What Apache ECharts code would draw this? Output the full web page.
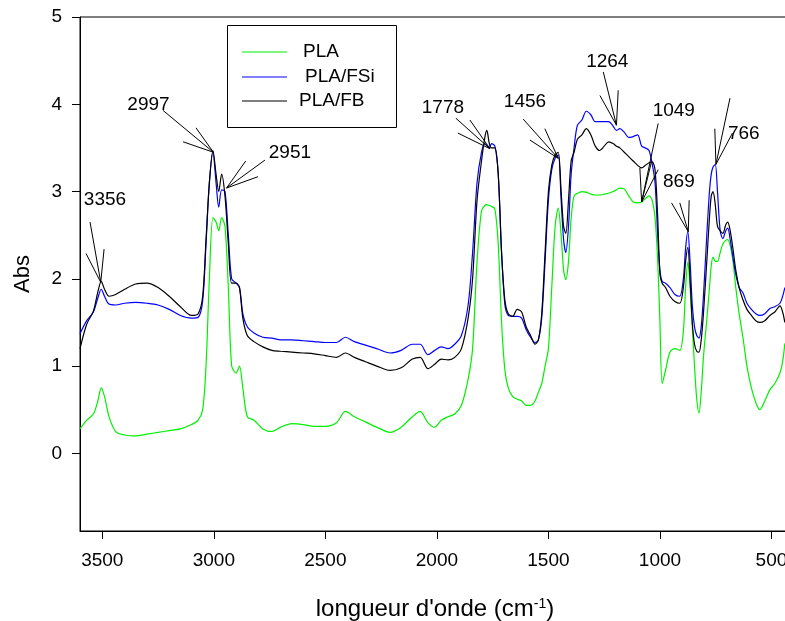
<!DOCTYPE html>
<html>
<head>
<meta charset="utf-8">
<script src="https://cdn.jsdelivr.net/npm/echarts@6/dist/echarts.min.js"></script>
<style>
html,body{margin:0;padding:0;background:#fff;}
#chart{width:785px;height:621px;}
</style>
</head>
<body>
<div id="chart"></div>
<script>
// wavenumbers (cm-1)
var wavenumbers = [3600,3570,3540,3520,3505,3490,3470,3440,3400,3350,3300,3250,3200,3150,3100,3070,3050,3035,3020,3004,
2990,2978,2965,2950,2935,2920,2900,2885,2870,2850,2820,2780,2740,2700,2650,2600,2550,2500,2450,2410,
2370,2320,2270,2210,2160,2110,2075,2040,2010,1980,1950,1920,1890,1860,1840,1820,1800,1785,1776,1765,
1755,1740,1725,1710,1695,1680,1660,1640,1620,1600,1580,1560,1545,1530,1515,1500,1485,1470,1456,1443,
1432,1422,1410,1398,1385,1370,1350,1330,1310,1290,1270,1250,1230,1210,1195,1180,1160,1140,1120,1100,
1082,1065,1049,1035,1022,1010,1000,990,975,955,933,911,895,885,875,865,855,845,835,825,
815,805,790,778,770,762,752,742,730,718,705,696,685,673,660,645,628,610,590,570,
552,530,507,485,462,450,440];

var absPLA = [0.28,0.38,0.45,0.60,0.75,0.65,0.42,0.25,0.21,0.20,0.22,0.24,0.26,0.28,0.33,0.38,0.50,1.00,2.00,2.70,
2.65,2.55,2.70,2.60,1.90,1.00,0.92,1.00,0.75,0.42,0.38,0.28,0.25,0.30,0.34,0.33,0.31,0.31,0.35,0.48,
0.42,0.36,0.30,0.24,0.30,0.42,0.48,0.35,0.30,0.38,0.42,0.45,0.55,0.85,1.20,2.20,2.78,2.84,2.85,2.84,
2.83,2.80,2.40,1.50,0.95,0.75,0.65,0.62,0.60,0.55,0.55,0.60,0.70,0.80,1.00,1.20,1.90,2.60,2.81,2.50,
2.10,1.99,2.20,2.70,2.95,2.98,3.00,2.99,2.97,2.96,2.96,2.97,2.98,3.00,3.02,3.04,3.03,2.95,2.88,2.87,
2.88,2.92,2.95,2.90,2.70,2.20,1.50,0.80,0.95,1.16,1.20,1.18,1.40,1.90,2.19,1.90,1.45,1.00,0.62,0.46,
0.70,1.10,1.53,1.90,2.15,2.25,2.20,2.20,2.30,2.40,2.44,2.45,2.38,2.21,1.90,1.60,1.33,1.00,0.75,0.58,
0.50,0.60,0.73,0.80,0.92,1.05,1.26];

var absPLAFSi = [1.37,1.52,1.62,1.78,1.88,1.80,1.71,1.70,1.72,1.73,1.72,1.70,1.65,1.58,1.55,1.56,1.75,2.40,3.10,3.45,
3.10,2.82,3.02,3.00,2.50,2.00,1.95,1.90,1.60,1.45,1.38,1.33,1.32,1.30,1.30,1.29,1.28,1.27,1.27,1.33,
1.28,1.24,1.20,1.15,1.18,1.25,1.25,1.13,1.18,1.22,1.20,1.25,1.35,1.70,2.30,3.10,3.45,3.55,3.53,3.50,
3.55,3.52,3.20,2.30,1.70,1.58,1.57,1.57,1.55,1.42,1.33,1.27,1.30,1.55,2.20,2.90,3.25,3.38,3.42,2.90,
2.45,2.30,2.60,3.20,3.50,3.76,3.82,3.92,3.88,3.80,3.80,3.80,3.80,3.75,3.70,3.72,3.68,3.62,3.63,3.65,
3.52,3.50,3.47,3.32,3.10,2.50,2.10,1.97,1.95,1.90,1.82,1.80,2.00,2.35,2.54,2.20,1.70,1.45,1.35,1.32,
1.45,1.80,2.50,3.00,3.20,3.28,3.31,3.00,2.55,2.46,2.55,2.58,2.45,2.25,2.05,1.90,1.84,1.72,1.65,1.60,
1.58,1.60,1.66,1.68,1.72,1.80,1.90];

var absPLAFB = [1.20,1.48,1.63,1.85,1.97,1.88,1.80,1.82,1.88,1.94,1.95,1.90,1.80,1.68,1.58,1.60,1.80,2.45,3.10,3.47,
3.20,3.00,3.20,2.95,2.40,1.95,1.95,1.90,1.55,1.35,1.28,1.22,1.18,1.17,1.16,1.15,1.14,1.12,1.10,1.15,
1.10,1.05,1.00,0.95,0.98,1.08,1.10,0.97,1.02,1.08,1.07,1.10,1.20,1.55,2.00,2.90,3.35,3.62,3.70,3.55,
3.50,3.50,3.20,2.30,1.75,1.60,1.57,1.65,1.62,1.45,1.35,1.25,1.30,1.60,2.30,3.00,3.30,3.42,3.45,3.00,
2.60,2.52,2.90,3.35,3.45,3.60,3.65,3.72,3.65,3.52,3.47,3.52,3.57,3.55,3.52,3.50,3.45,3.40,3.35,3.30,
3.27,3.30,3.33,3.34,3.25,2.70,2.05,1.95,1.90,1.80,1.74,1.72,1.90,2.20,2.36,2.00,1.50,1.25,1.17,1.16,
1.30,1.60,2.20,2.70,2.95,3.00,2.85,2.60,2.55,2.52,2.62,2.65,2.55,2.35,2.10,1.90,1.76,1.65,1.58,1.52,
1.50,1.52,1.58,1.62,1.69,1.62,1.50];

var seriesNames = ['PLA','PLA/FSi','PLA/FB'];
var xTickValues = [500,1000,1500,2000,2500,3000,3500];
var yTickValues = [0,1,2,3,4,5];

// peak annotations (data units: wavenumber, Abs)
var annotLabels = ['3356','2997','2951','1778','1456','1264','1049','869','766'];
var annotTextPos = [[3488,2.91],[3293,4.00],[2659,3.44],[1973,3.96],[1605,4.03],[1236,4.49],[938,3.93],[915,3.11],[624,3.66]];
var annotPoints = [[3507,1.96],[3002,3.45],[2943,3.04],[1762,3.49],[1456,3.38],[1195,3.76],[1082,2.88],[873,2.54],[749,3.31]];
var annotEnds = [
  [[3555,2.65],[3573,2.29],[3492,2.34]],
  [[3228,3.93],[3138,3.57],[3080,3.73]],
  [[2771,3.36],[2857,3.35],[2802,3.17]],
  [[1915,3.84],[1852,3.82],[1906,3.67]],
  [[1613,3.83],[1583,3.59],[1516,3.72]],
  [[1254,4.37],[1269,4.10],[1187,4.16]],
  [[1008,3.78],[1090,3.27],[1038,3.34],[1008,3.25]],
  [[948,2.87],[911,2.87],[869,2.90]],
  [[686,4.07],[754,3.72],[675,3.67]]
];

var FONT = '"Liberation Sans", Arial, sans-serif';
var colors = ['#00f000','#0000ff','#000000'];

function pairs(vals){ return wavenumbers.map(function(w,i){ return [w, vals[i]]; }); }

var leaderLines = [];
annotPoints.forEach(function(p,i){
  annotEnds[i].forEach(function(e){
    leaderLines.push([{coord:p},{coord:e}]);
  });
});
var labelPoints = annotLabels.map(function(t,i){ return {name:t, coord:annotTextPos[i], value:t}; });

var chart = echarts.init(document.getElementById('chart'), null, {renderer:'canvas'});
chart.setOption({
  animation:false,
  backgroundColor:'#fff',
  textStyle:{fontFamily:FONT},
  grid:{left:80, top:17, width:803, height:514, show:true, borderColor:'#000', borderWidth:1, backgroundColor:'transparent',
        containLabel:false, outerBoundsMode:'none'},
  xAxis:{
    type:'value', inverse:true, min:0, max:3600,
    name:'{a|longueur d\'onde (cm}{s|-1}{a|)}', nameLocation:'middle', nameGap:66,
    nameTextStyle:{padding:[0,93,0,0], rich:{a:{fontSize:24, fontFamily:FONT, color:'#000'}, s:{fontSize:14, fontFamily:FONT, color:'#000', verticalAlign:'top'}}},
    axisLine:{show:true, onZero:false, lineStyle:{color:'#000', width:1}},
    axisTick:{show:true, inside:false, length:8, lineStyle:{color:'#000'}, customValues:xTickValues},
    axisLabel:{show:true, margin:20, fontSize:19, color:'#000', fontFamily:FONT, customValues:xTickValues,
               formatter:function(v){ return String(v); }},
    splitLine:{show:false}
  },
  yAxis:{
    type:'value', min:-0.89, max:5,
    name:'Abs', nameLocation:'middle', nameGap:46, nameRotate:90,
    nameTextStyle:{fontSize:22, color:'#000', fontFamily:FONT},
    axisLine:{show:true, onZero:false, lineStyle:{color:'#000', width:1}},
    axisTick:{show:true, inside:false, length:8, lineStyle:{color:'#000'}, customValues:yTickValues},
    axisLabel:{show:true, margin:18, fontSize:19, color:'#000', fontFamily:FONT, customValues:yTickValues,
               formatter:function(v){ return String(v); }},
    splitLine:{show:false}
  },
  series:[
    {name:seriesNames[0], type:'line', data:pairs(absPLA), showSymbol:false, symbol:'none', smooth:0.3,
     lineStyle:{color:colors[0], width:1.2}, z:2},
    {name:seriesNames[1], type:'line', data:pairs(absPLAFSi), showSymbol:false, symbol:'none', smooth:0.3,
     lineStyle:{color:colors[1], width:1.2}, z:3},
    {name:seriesNames[2], type:'line', data:pairs(absPLAFB), showSymbol:false, symbol:'none', smooth:0.3,
     lineStyle:{color:colors[2], width:1.2}, z:4,
     markLine:{silent:true, symbol:['none','none'], label:{show:false}, lineStyle:{color:'#000', width:1, type:'solid'},
       emphasis:{disabled:true}, data:leaderLines},
     markPoint:{silent:true, symbol:'circle', symbolSize:0, data:labelPoints,
       label:{show:true, position:'inside', formatter:'{b}', fontSize:19, color:'#000', fontFamily:FONT}}
    }
  ],
  graphic:[
    {type:'rect', left:227, top:25, shape:{width:169, height:102}, style:{fill:'#fff', stroke:'#000', lineWidth:1}, z:10},
    {type:'line', shape:{x1:242,y1:52,x2:287,y2:52}, style:{stroke:colors[0], lineWidth:1.2}, z:11},
    {type:'line', shape:{x1:242,y1:77,x2:287,y2:77}, style:{stroke:colors[1], lineWidth:1.2}, z:11},
    {type:'line', shape:{x1:242,y1:101,x2:287,y2:101}, style:{stroke:colors[2], lineWidth:1.2}, z:11},
    {type:'text', x:303, y:52, style:{text:seriesNames[0], font:'19px '+FONT, fill:'#000', textVerticalAlign:'middle', verticalAlign:'middle'}, z:11},
    {type:'text', x:305, y:77, style:{text:seriesNames[1], font:'19px '+FONT, fill:'#000', textVerticalAlign:'middle', verticalAlign:'middle'}, z:11},
    {type:'text', x:299, y:101, style:{text:seriesNames[2], font:'19px '+FONT, fill:'#000', textVerticalAlign:'middle', verticalAlign:'middle'}, z:11}
  ]
});
</script>
</body>
</html>
